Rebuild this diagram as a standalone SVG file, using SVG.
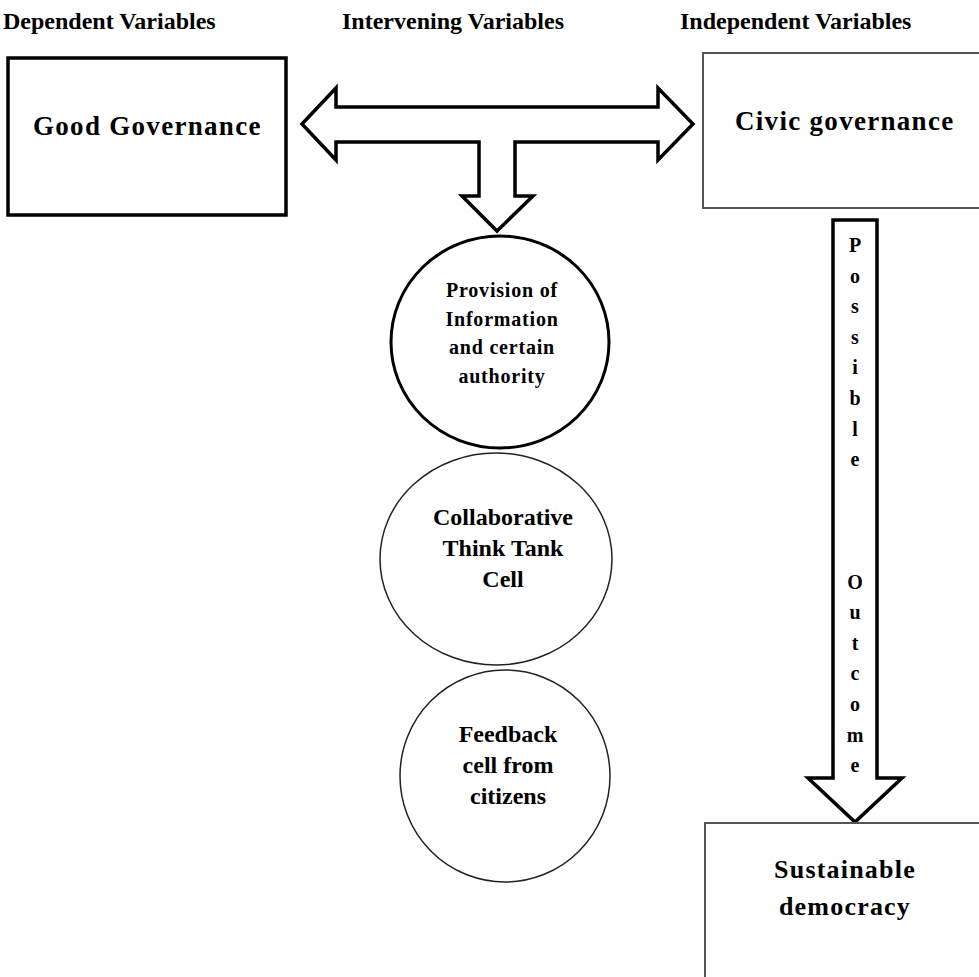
<svg xmlns="http://www.w3.org/2000/svg" width="979" height="977" viewBox="0 0 979 977">
<style>
text{font-family:"Liberation Serif","Times New Roman",serif;font-weight:bold;fill:#000}
.hdr{font-size:24px}
.big{font-size:27px;letter-spacing:1.3px}
.c1{font-size:20px;letter-spacing:0.8px;text-anchor:middle}
.c2{font-size:24px;text-anchor:middle}
.v{font-size:20px;text-anchor:middle}
.thin{fill:#fff;stroke:#222;stroke-width:1.5}
.gbox{fill:#fff;stroke:#555;stroke-width:2}
.blk{fill:#fff;stroke:#000;stroke-width:3.5;stroke-linejoin:miter}
</style>
<rect width="979" height="977" fill="#fff"/>
<g id="headers">
<text class="hdr" x="3" y="29">Dependent Variables</text>
<text class="hdr" x="342" y="29">Intervening Variables</text>
<text class="hdr" x="680" y="29">Independent Variables</text>
</g>
<g id="connectors">
<polygon class="blk" points="302,124 336,88 336,107 658,107 658,88 693,124 658,160 658,142 515,142 515,196 533,196 497,231 462,196 479,196 479,142 336,142 336,160"/>
<polygon class="blk" points="833,220 877,220 877,778 902,778 855,822 808,778 833,778"/>
<g class="v">
<text x="855" y="252">P</text>
<text x="855" y="282.6">o</text>
<text x="855" y="313.2">s</text>
<text x="855" y="343.8">s</text>
<text x="855" y="374.4">i</text>
<text x="855" y="405">b</text>
<text x="855" y="435.6">l</text>
<text x="855" y="466.2">e</text>
<text x="855" y="588.6">O</text>
<text x="855" y="619.2">u</text>
<text x="855" y="649.8">t</text>
<text x="855" y="680.4">c</text>
<text x="855" y="711">o</text>
<text x="855" y="741.6">m</text>
<text x="855" y="772.2">e</text>
</g>
</g>
<g id="good-governance">
<rect x="8" y="58" width="278" height="157" fill="#fff" stroke="#000" stroke-width="3.5"/>
<text class="big" x="33" y="135">Good Governance</text>
</g>
<g id="civic-governance">
<rect class="gbox" x="703" y="53" width="290" height="155"/>
<text class="big" x="735" y="130">Civic governance</text>
</g>
<g id="provision">
<ellipse cx="500" cy="342" rx="109" ry="106" fill="#fff" stroke="#000" stroke-width="3"/>
<text class="c1" x="502" y="297">Provision of</text>
<text class="c1" x="502" y="326">Information</text>
<text class="c1" x="502" y="354">and certain</text>
<text class="c1" x="502" y="383">authority</text>
</g>
<g id="think-tank">
<ellipse class="thin" cx="496" cy="559" rx="116" ry="106"/>
<text class="c2" x="503" y="525">Collaborative</text>
<text class="c2" x="503" y="556">Think Tank</text>
<text class="c2" x="503" y="587">Cell</text>
</g>
<g id="feedback">
<ellipse class="thin" cx="505" cy="776" rx="105" ry="106"/>
<text class="c2" x="508" y="742">Feedback</text>
<text class="c2" x="508" y="773">cell from</text>
<text class="c2" x="508" y="804">citizens</text>
</g>
<g id="sustainable">
<rect class="gbox" x="705" y="823" width="290" height="170"/>
<text class="c2" x="845" y="878" style="font-size:26px;letter-spacing:1.2px">Sustainable</text>
<text class="c2" x="845" y="915" style="font-size:26px;letter-spacing:1.2px">democracy</text>
</g>
</svg>
